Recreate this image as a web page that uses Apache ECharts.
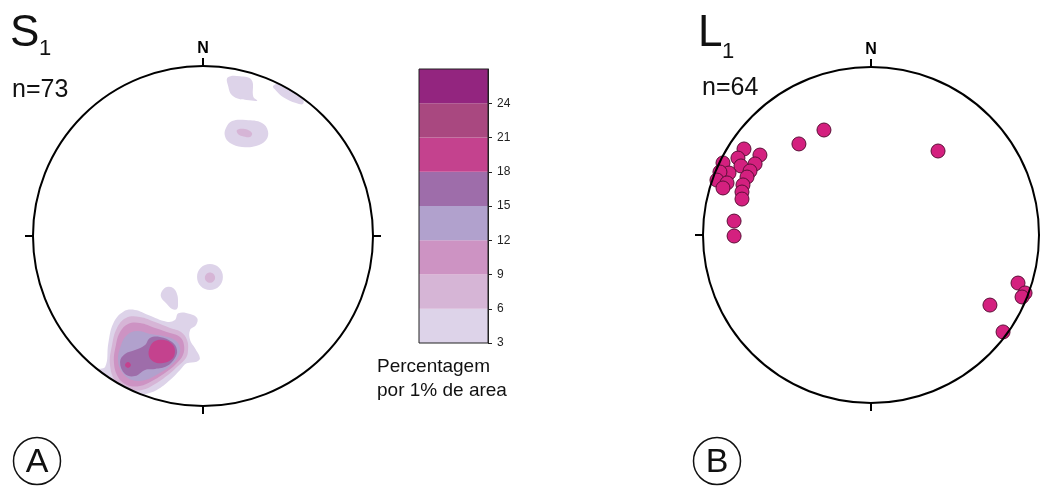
<!DOCTYPE html>
<html>
<head>
<meta charset="utf-8">
<script src="https://cdn.jsdelivr.net/npm/echarts@6/dist/echarts.min.js"></script>
<style>
  html, body { margin: 0; padding: 0; background: #fff; }
  #chart { width: 1040px; height: 486px; }
</style>
</head>
<body>
<div id="chart"></div>
<script>
// Contour bounds (percentage per 1% area) and the fill of each band between them
const contourLevels = [3, 6, 9, 12, 15, 18, 21, 24, 27];
const bandColors = ['#ddd3e9', '#d6b5d6', '#cd93c3', '#b1a1cd', '#9e6daa', '#c4428e', '#a94880', '#93257f'];
const colorbarTicks = [3, 6, 9, 12, 15, 18, 21, 24];

// S1 pole density contours; net coordinates in % of the primitive radius (x = east, y = north)
const contour3 = [
  [[-57.6,-77.1],[-55.7,-63.1],[-52.8,-51.4],[-46.9,-44.5],[-40.0,-43.5],[-32.2,-46.5],[-21.4,-50.4],
   [-16.5,-49.4],[-14.5,-45.5],[-7.6,-45.9],[-3.4,-48.4],[-4.1,-52.4],[-7.6,-55.3],[-7.6,-61.2],
   [-4.7,-66.1],[-1.8,-71.9],[-3.7,-73.9],[-9.6,-74.9],[-13.5,-78.8],[-19.4,-84.7],[-27.2,-90.6],
   [-35.1,-93.5],[-45.9,-96.5],[-60.6,-87.6],[-63.5,-78.8]],
  [[14.5,93.2],[21.8,94.0],[28.6,91.8],[29.6,81.9],[31.9,79.6],[25.7,80.0],[21.8,80.4],[16.9,82.9],[14.9,87.8]],
  [[41.2,88.2],[46.0,90.0],[53.0,86.5],[58.5,81.5],[58.8,77.6],[54.7,78.2],[47.5,81.5],[43.0,85.5]],
  [[13.5,63.5],[17.1,67.6],[25.3,68.2],[34.7,66.5],[38.2,61.8],[37.1,56.5],[31.2,52.9],[22.9,52.4],[15.9,54.7],[12.9,58.8]],
  [[11.7,-24.1],[9.5,-18.7],[4.1,-16.5],[-1.3,-18.7],[-3.5,-24.1],[-1.3,-29.5],[4.1,-31.7],[9.5,-29.5]],
  [[-24.1,-32.4],[-21.2,-30.0],[-17.6,-30.6],[-15.3,-34.1],[-14.7,-38.8],[-15.3,-42.9],[-18.2,-42.9],[-21.8,-39.4],[-24.7,-35.9]]
];
const contour6 = [
  [[-54.7,-75.9],[-53.5,-64.1],[-50.6,-54.1],[-45.3,-48.2],[-37.1,-47.6],[-28.2,-50.6],[-19.4,-54.1],
   [-12.9,-56.5],[-9.4,-61.2],[-8.8,-67.1],[-10.0,-71.8],[-14.7,-76.5],[-20.6,-81.8],[-28.2,-87.1],
   [-35.9,-90.6],[-44.1,-90.0],[-51.2,-85.9]],
  [[20.0,62.4],[24.7,62.9],[28.8,60.6],[27.6,58.2],[22.9,58.8],[20.6,60.0]],
  [[7.1,-24.5],[6.2,-22.4],[4.1,-21.5],[2.0,-22.4],[1.1,-24.5],[2.0,-26.6],[4.1,-27.5],[6.2,-26.6]]
];
const contour9 = [
  [[-52.4,-74.1],[-51.2,-64.1],[-48.8,-56.5],[-44.1,-51.8],[-37.1,-51.2],[-28.2,-54.1],[-19.4,-57.1],
   [-13.5,-59.4],[-11.2,-64.1],[-11.8,-70.0],[-15.9,-75.3],[-22.4,-80.6],[-30.0,-85.3],[-37.1,-88.2],
   [-44.7,-87.6],[-50.0,-82.9]]
];
const contour12 = [
  [[-50.0,-72.9],[-48.2,-64.1],[-44.7,-58.2],[-38.8,-55.9],[-31.2,-57.6],[-23.5,-58.8],[-16.5,-61.2],
   [-13.5,-65.9],[-14.7,-71.2],[-19.4,-76.5],[-26.5,-81.2],[-34.1,-84.7],[-41.8,-84.7],[-47.6,-80.0]]
];
const contour15 = [
  [[-48.8,-74.1],[-45.9,-69.4],[-40.0,-67.1],[-34.1,-64.1],[-31.2,-60.0],[-25.3,-59.4],[-18.2,-62.4],
   [-15.3,-67.1],[-16.5,-71.8],[-21.2,-76.5],[-28.2,-78.2],[-34.1,-78.8],[-40.0,-82.4],[-45.9,-81.2]]
];
const contour18 = [
  [[-31.2,-65.3],[-28.2,-61.8],[-22.9,-61.2],[-18.2,-63.5],[-16.5,-67.6],[-18.2,-72.4],[-23.5,-74.7],[-28.8,-74.1],[-31.8,-70.6]],
  [[-45.9,-75.9],[-44.1,-74.1],[-42.4,-75.9],[-44.1,-77.6]]
];
const densityContours = [contour3, contour6, contour9, contour12, contour15, contour18];

// L1 lineations; net coordinates in % of the primitive radius
const lineations = [
  [-28.0,62.5],[-42.9,54.2],[39.9,50.0],[-75.6,51.2],[-66.1,47.6],[-79.2,45.8],[-88.1,42.9],
  [-77.4,41.1],[-69.0,42.3],[-72.0,38.1],[-84.5,36.9],[-89.9,37.5],[-91.7,32.7],[-85.7,31.0],
  [-88.1,28.0],[-73.8,34.5],[-76.2,29.8],[-76.8,25.6],[-76.8,21.4],[-81.5,8.3],[-81.5,-0.6],
  [87.5,-28.6],[91.7,-34.5],[89.9,-36.9],[70.8,-41.7],[78.6,-57.7]
];

const FONT = '"Liberation Sans", Arial, Helvetica, sans-serif';
const chart = echarts.init(document.getElementById('chart'), null, { renderer: 'canvas' });

function contourSeries(polys, bandIndex) {
  return {
    type: 'custom', xAxisIndex: 0, yAxisIndex: 0, z: 1, silent: true, clip: false,
    data: polys.map((_, i) => [i]),
    renderItem: (params, api) => ({
      type: 'polygon',
      shape: { points: polys[params.dataIndex].map(p => api.coord(p)), smooth: 0.4 },
      style: { fill: bandColors[bandIndex], stroke: null }
    })
  };
}

const netAngleAxis = (i) => ({
  polarIndex: i, type: 'value', min: 0, max: 360, interval: 90,
  startAngle: 90, clockwise: true, z: 5,
  axisLine: { show: true, lineStyle: { color: '#000', width: 2 } },
  axisTick: { show: true, length: 8, lineStyle: { color: '#000', width: 2 } },
  splitLine: { show: false },
  axisLabel: {
    show: true, margin: 9, color: '#000', fontSize: 16, fontWeight: 'bold', fontFamily: FONT,
    formatter: v => (v === 0 ? 'N' : '')
  }
});

const option = {
  backgroundColor: '#fff',
  animation: false,
  polar: [
    { center: [203, 236], radius: 170 },
    { center: [871, 235], radius: 168 }
  ],
  angleAxis: [netAngleAxis(0), netAngleAxis(1)],
  radiusAxis: [
    { polarIndex: 0, type: 'value', min: 0, max: 100, show: false },
    { polarIndex: 1, type: 'value', min: 0, max: 100, show: false }
  ],
  grid: [
    { left: 33, top: 66, width: 340, height: 340 },
    { left: 703, top: 67, width: 336, height: 336 },
    { left: 419, top: 69, width: 69, height: 274, show: true, borderColor: '#222', borderWidth: 1, z: 5, backgroundColor: 'transparent' }
  ],
  xAxis: [
    { gridIndex: 0, type: 'value', min: -100, max: 100, show: false },
    { gridIndex: 1, type: 'value', min: -100, max: 100, show: false },
    { gridIndex: 2, type: 'value', min: 0, max: 1, show: false }
  ],
  yAxis: [
    { gridIndex: 0, type: 'value', min: -100, max: 100, show: false },
    { gridIndex: 1, type: 'value', min: -100, max: 100, show: false },
    {
      gridIndex: 2, type: 'value', position: 'right', min: 3, max: 27, interval: 3, z: 5,
      axisLine: { show: true, onZero: false, lineStyle: { color: '#222', width: 1 } },
      axisTick: { show: true, inside: false, length: 4, customValues: colorbarTicks, lineStyle: { color: '#222' } },
      splitLine: { show: false },
      axisLabel: {
        show: true, margin: 9, fontSize: 12, color: '#222', fontFamily: FONT,
        customValues: colorbarTicks
      }
    }
  ],
  series: [
    ...densityContours.map((polys, i) => contourSeries(polys, i)),
    {
      // white collar that trims contour fills at the primitive circle
      type: 'custom', xAxisIndex: 0, yAxisIndex: 0, z: 2, silent: true, clip: false,
      data: [[0, 0]],
      renderItem: (params, api) => {
        const c = api.coord([0, 0]);
        const r = api.coord([100, 0])[0] - c[0];
        return { type: 'ring', shape: { cx: c[0], cy: c[1], r: r + 24, r0: r }, style: { fill: '#fff' } };
      }
    },
    {
      type: 'scatter', xAxisIndex: 1, yAxisIndex: 1, z: 3, silent: true,
      data: lineations, symbol: 'circle', symbolSize: 14,
      itemStyle: { color: '#d4207f', borderColor: '#5c0f37', borderWidth: 1, opacity: 1 }
    },
    {
      type: 'custom', xAxisIndex: 2, yAxisIndex: 2, z: 2, silent: true,
      data: bandColors.map((_, i) => [contourLevels[i], contourLevels[i + 1]]),
      encode: { y: [0, 1] },
      renderItem: (params, api) => {
        const p0 = api.coord([0, api.value(0)]);
        const p1 = api.coord([1, api.value(1)]);
        return {
          type: 'rect',
          shape: { x: p0[0], y: p1[1], width: p1[0] - p0[0], height: p0[1] - p1[1] },
          style: { fill: bandColors[params.dataIndex] }
        };
      }
    }
  ],
  graphic: [
    { type: 'text', x: 10, y: 34, z: 100, style: { text: 'S', font: '44px ' + FONT, fill: '#111', align: 'left', verticalAlign: 'middle' } },
    { type: 'text', x: 39, y: 49, z: 100, style: { text: '1', font: '22px ' + FONT, fill: '#111', align: 'left', verticalAlign: 'middle' } },
    { type: 'text', x: 12, y: 90, z: 100, style: { text: 'n=73', font: '25px ' + FONT, fill: '#111', align: 'left', verticalAlign: 'middle' } },
    { type: 'text', x: 698, y: 34, z: 100, style: { text: 'L', font: '44px ' + FONT, fill: '#111', align: 'left', verticalAlign: 'middle' } },
    { type: 'text', x: 722, y: 52, z: 100, style: { text: '1', font: '22px ' + FONT, fill: '#111', align: 'left', verticalAlign: 'middle' } },
    { type: 'text', x: 702, y: 88, z: 100, style: { text: 'n=64', font: '25px ' + FONT, fill: '#111', align: 'left', verticalAlign: 'middle' } },
    { type: 'text', x: 377, y: 367, z: 100, style: { text: 'Percentagem', font: '19px ' + FONT, fill: '#111', align: 'left', verticalAlign: 'middle' } },
    { type: 'text', x: 377, y: 391, z: 100, style: { text: 'por 1% de area', font: '19px ' + FONT, fill: '#111', align: 'left', verticalAlign: 'middle' } },
    { type: 'circle', z: 100, shape: { cx: 37, cy: 461, r: 23.5 }, style: { fill: 'none', stroke: '#111', lineWidth: 1.5 } },
    { type: 'text', x: 37, y: 463, z: 100, style: { text: 'A', font: '34px ' + FONT, fill: '#111', align: 'center', verticalAlign: 'middle' } },
    { type: 'circle', z: 100, shape: { cx: 717, cy: 461, r: 23.5 }, style: { fill: 'none', stroke: '#111', lineWidth: 1.5 } },
    { type: 'text', x: 717, y: 463, z: 100, style: { text: 'B', font: '34px ' + FONT, fill: '#111', align: 'center', verticalAlign: 'middle' } }
  ]
};

chart.setOption(option);
</script>
</body>
</html>
